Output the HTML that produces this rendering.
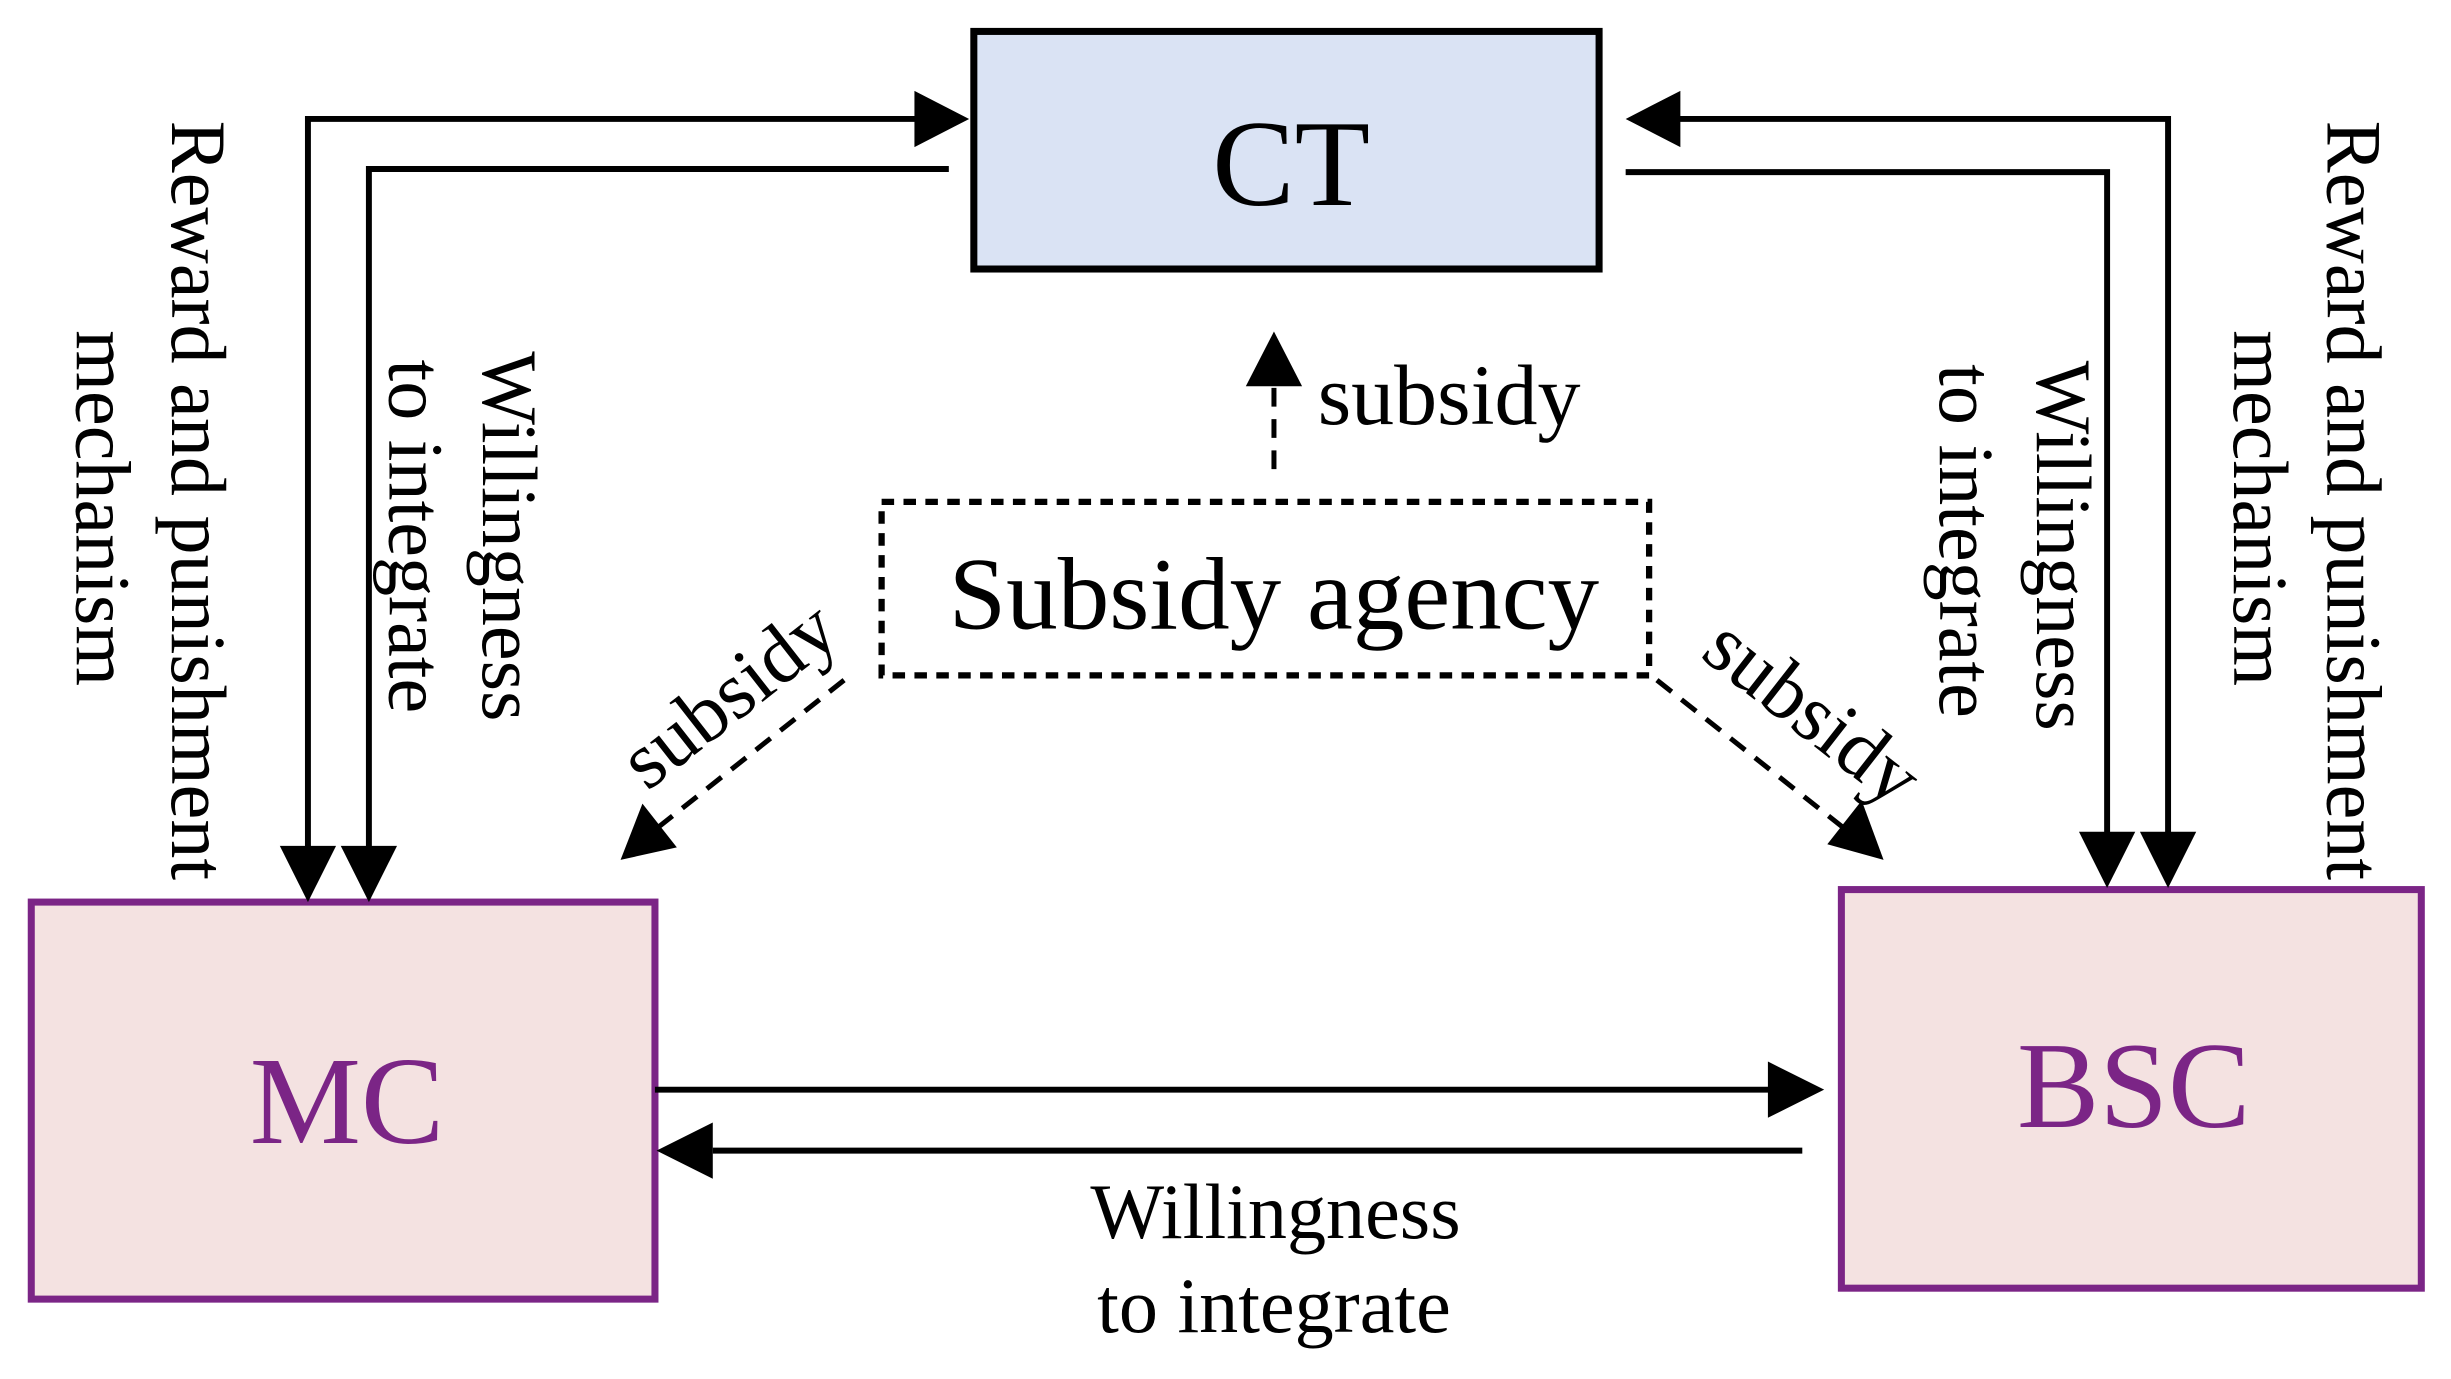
<!DOCTYPE html>
<html><head><meta charset="utf-8"><style>
html,body{margin:0;padding:0;background:#fff;}
svg{display:block;}
text{font-family:"Liberation Serif",serif;}
</style></head><body>
<svg width="2451" height="1379" viewBox="0 0 1568 882" xmlns="http://www.w3.org/2000/svg">
<rect width="1568" height="882" fill="#fff"/>
<!-- CT -->
<rect x="623" y="20" width="400" height="152" fill="#dae3f4" stroke="#000" stroke-width="4.5"/>
<text x="826" y="131" font-size="79" text-anchor="middle">CT</text>
<!-- MC -->
<rect x="20" y="577" width="399" height="254" fill="#f4e2e1" stroke="#7b2586" stroke-width="4.5"/>
<text x="222" y="731" font-size="80" text-anchor="middle" fill="#7b2586">MC</text>
<!-- BSC -->
<rect x="1178" y="569" width="371" height="255" fill="#f4e2e1" stroke="#7b2586" stroke-width="4.5"/>
<text x="1365" y="721" font-size="79" text-anchor="middle" fill="#7b2586">BSC</text>

<g stroke="#000" stroke-width="3.8" fill="none">
<polyline points="197,545 197,76 586,76"/>
<polyline points="236,545 236,108 607,108"/>
<polyline points="1074,76 1387,76 1387,537"/>
<polyline points="1040,110 1348,110 1348,537"/>
<line x1="419" y1="697" x2="1132" y2="697"/>
<line x1="1153" y1="736" x2="456" y2="736"/>
</g>
<g fill="#000">
<polygon points="620,76 585,58 585,94"/>
<polygon points="1040,76 1075,58 1075,94"/>
<polygon points="197,577 179,541 215,541"/>
<polygon points="236,577 218,541 254,541"/>
<polygon points="1348,568 1330,532 1366,532"/>
<polygon points="1387,568 1369,532 1405,532"/>
<polygon points="1167,697 1131,679 1131,715"/>
<polygon points="420,736 456,718 456,754"/>
</g>

<!-- subsidy agency -->
<rect x="564" y="321" width="491" height="111" fill="none" stroke="#000" stroke-width="4" stroke-dasharray="8,6"/>
<text x="815" y="402" font-size="66" text-anchor="middle">Subsidy agency</text>
<g stroke="#000" stroke-width="3.2" fill="none" stroke-dasharray="12,8">
<line x1="815" y1="300" x2="815" y2="245"/>
<line x1="540" y1="435" x2="420" y2="530"/>
<line x1="1060" y1="435" x2="1180" y2="530"/>
</g>
<g fill="#000">
<polygon points="815,212 797,247 833,247"/>
<polygon points="397,550 411,514 433,542"/>
<polygon points="1205,550 1169,540 1191,512"/>
</g>
<text x="843" y="271" font-size="55">subsidy</text>
<text transform="translate(466,444) rotate(-38)" font-size="52" text-anchor="middle" dominant-baseline="central">subsidy</text>
<text transform="translate(1160,455) rotate(38)" font-size="52" text-anchor="middle" dominant-baseline="central">subsidy</text>

<!-- bottom label -->
<text x="816" y="792" font-size="50" text-anchor="middle">Willingness</text>
<text x="815" y="852" font-size="50" text-anchor="middle">to integrate</text>

<!-- vertical labels -->
<g font-size="50" text-anchor="middle" dominant-baseline="central">
<text transform="translate(127,320) rotate(90)">Reward and punishment</text>
<text transform="translate(66,325) rotate(90)">mechanism</text>
<text transform="translate(326,343) rotate(90)">Willingness</text>
<text transform="translate(266,343) rotate(90)">to integrate</text>
<text transform="translate(1320,349) rotate(90)">Willingness</text>
<text transform="translate(1258,346) rotate(90)">to integrate</text>
<text transform="translate(1506,320) rotate(90)">Reward and punishment</text>
<text transform="translate(1446,325) rotate(90)">mechanism</text>
</g>
</svg>
</body></html>
